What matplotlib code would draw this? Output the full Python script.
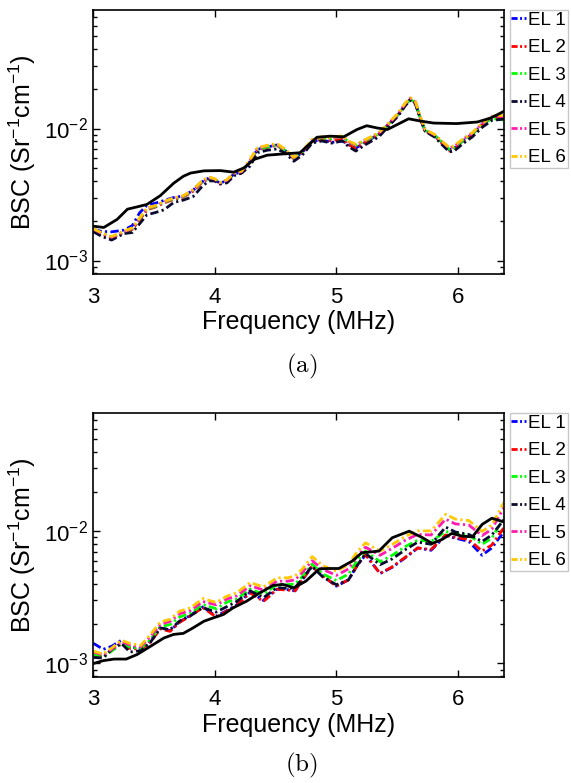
import numpy as np
import matplotlib.pyplot as plt

plt.rcParams['font.family'] = ['Liberation Sans', 'DejaVu Sans']
plt.rcParams['mathtext.default'] = 'regular'

labels = ['EL 1', 'EL 2', 'EL 3', 'EL 4', 'EL 5', 'EL 6']
colors = ['#0000ff', '#ff0000', '#00ff00', '#0a0a30', '#ff1ab0', '#ffc800']

# ---- panel (a), values in 1e-3 Sr^-1 cm^-1
fa = np.array([3.00, 3.07, 3.15, 3.25, 3.32, 3.38, 3.44, 3.51, 3.58, 3.66,
               3.74, 3.82, 3.89, 3.95, 4.00, 4.04, 4.10, 4.16, 4.22, 4.29,
               4.35, 4.43, 4.51, 4.58, 4.65, 4.72, 4.80, 4.88, 4.96, 5.05,
               5.10, 5.16, 5.24, 5.35, 5.43, 5.51, 5.57, 5.61, 5.65, 5.69,
               5.73, 5.81, 5.87, 5.93, 5.97, 6.04, 6.12, 6.20, 6.28, 6.38])
a_el1 = [1.72, 1.66, 1.65, 1.70, 1.84, 2.30, 2.62, 2.72, 2.85, 3.00,
         3.08, 3.40, 3.92, 4.22, 4.10, 3.85, 4.04, 4.55, 4.65, 5.65,
         6.95, 7.25, 7.50, 6.80, 5.95, 6.60, 8.00, 8.20, 7.85, 8.05,
         7.55, 7.10, 7.90, 9.05, 10.8, 12.8, 15.3, 16.7, 15.7, 12.1,
         9.60, 8.80, 7.80, 6.90, 7.10, 8.05, 9.05, 10.8, 12.1, 12.3]
a_el2 = [1.70, 1.58, 1.48, 1.62, 1.72, 2.03, 2.42, 2.54, 2.73, 2.90,
         3.02, 3.35, 3.88, 4.18, 4.05, 3.80, 3.98, 4.48, 4.60, 5.60,
         6.90, 7.20, 7.45, 6.75, 5.90, 6.55, 7.95, 8.30, 8.05, 8.40,
         7.55, 7.05, 7.85, 9.00, 10.7, 12.7, 15.2, 16.6, 15.6, 12.0,
         9.55, 8.75, 7.70, 6.75, 6.90, 7.90, 8.95, 10.6, 11.9, 12.0]
a_el3 = [1.72, 1.60, 1.50, 1.64, 1.75, 2.06, 2.45, 2.57, 2.76, 2.93,
         3.05, 3.40, 3.92, 4.22, 4.10, 3.85, 4.04, 4.55, 4.68, 5.70,
         6.95, 7.25, 7.50, 6.80, 5.95, 6.60, 8.10, 8.50, 8.35, 8.70,
         7.90, 7.45, 8.10, 9.10, 10.8, 12.8, 15.3, 16.6, 15.6, 12.1,
         9.65, 8.85, 7.85, 6.95, 7.10, 8.05, 9.05, 10.7, 11.9, 11.6]
a_el4 = [1.65, 1.52, 1.43, 1.60, 1.63, 1.90, 2.22, 2.31, 2.42, 2.75,
         2.87, 3.05, 3.60, 4.02, 4.00, 3.80, 3.88, 4.40, 4.60, 5.20,
         6.55, 6.85, 7.00, 6.50, 5.65, 6.30, 7.75, 8.05, 7.75, 8.05,
         7.30, 6.75, 7.55, 8.65, 10.4, 12.5, 15.0, 16.4, 15.4, 12.0,
         9.55, 8.60, 7.55, 6.65, 6.75, 7.65, 8.65, 10.2, 11.5, 11.8]
a_el5 = [1.73, 1.60, 1.50, 1.65, 1.76, 2.08, 2.48, 2.60, 2.78, 2.96,
         3.08, 3.42, 3.95, 4.27, 4.13, 3.87, 4.07, 4.58, 4.72, 5.80,
         7.10, 7.40, 7.62, 6.88, 6.00, 6.70, 8.20, 8.60, 8.40, 8.75,
         7.95, 7.50, 8.20, 9.25, 10.9, 13.0, 15.6, 17.0, 16.0, 12.3,
         9.80, 8.95, 7.95, 7.10, 7.30, 8.25, 9.25, 10.9, 12.3, 12.4]
a_el6 = [1.74, 1.62, 1.52, 1.67, 1.77, 2.10, 2.50, 2.61, 2.80, 2.98,
         3.10, 3.45, 3.98, 4.30, 4.16, 3.90, 4.10, 4.62, 4.76, 5.85,
         7.15, 7.45, 7.70, 6.95, 6.05, 6.75, 8.25, 8.65, 8.50, 8.85,
         8.05, 7.60, 8.25, 9.30, 11.0, 13.1, 15.7, 17.1, 16.1, 12.4,
         9.85, 9.00, 8.00, 7.20, 7.40, 8.30, 9.30, 11.0, 12.4, 12.6]
fa_ref = [3.00, 3.085, 3.195, 3.28, 3.36, 3.44, 3.55, 3.66, 3.74, 3.80,
          3.91, 4.045, 4.155, 4.24, 4.32, 4.43, 4.57, 4.70, 4.84, 4.95,
          5.06, 5.17, 5.25, 5.335, 5.42, 5.50, 5.595, 5.69, 5.80, 5.99,
          6.16, 6.27, 6.38]
a_ref = [1.82, 1.78, 2.05, 2.45, 2.55, 2.66, 3.10, 3.85, 4.35, 4.60,
         4.78, 4.80, 4.67, 5.04, 5.82, 6.28, 6.43, 6.55, 8.59, 8.75,
         8.65, 9.83, 10.5, 10.1, 9.83, 10.7, 11.85, 11.4, 11.0, 10.9,
         11.2, 12.0, 13.5]

# ---- panel (b)
fb = np.array([3.00, 3.08, 3.15, 3.23, 3.30, 3.39, 3.47, 3.55, 3.63, 3.71,
               3.80, 3.90, 4.01, 4.10, 4.18, 4.29, 4.40, 4.51, 4.60, 4.66,
               4.72, 4.80, 4.89, 5.00, 5.10, 5.17, 5.24, 5.36, 5.46, 5.57,
               5.67, 5.78, 5.90, 5.98, 6.09, 6.20, 6.28, 6.38])
b_el1 = [1.42, 1.28, 1.35, 1.50, 1.33, 1.30, 1.48, 1.88, 1.77, 2.07,
         2.32, 2.68, 2.28, 2.52, 2.78, 3.48, 3.00, 3.66, 3.62, 3.55,
         4.30, 5.45, 4.60, 3.85, 4.30, 5.50, 6.65, 4.80, 5.35, 6.35,
         7.50, 7.20, 9.30, 8.90, 8.40, 6.60, 7.50, 10.0]
b_el2 = [1.16, 1.12, 1.27, 1.40, 1.30, 1.28, 1.45, 1.83, 1.75, 2.05,
         2.30, 2.65, 2.25, 2.50, 2.75, 3.43, 2.95, 3.64, 3.60, 3.55,
         4.30, 5.45, 4.60, 3.85, 4.30, 5.50, 6.69, 4.80, 5.40, 6.40,
         7.50, 7.30, 9.40, 9.00, 8.70, 7.10, 7.90, 10.7]
b_el3 = [1.18, 1.12, 1.24, 1.42, 1.33, 1.30, 1.52, 1.90, 1.97, 2.25,
         2.40, 2.80, 2.60, 2.92, 3.08, 3.65, 3.35, 3.95, 3.95, 4.00,
         4.55, 5.65, 4.75, 4.25, 4.75, 6.00, 7.10, 5.90, 6.60, 7.70,
         8.60, 8.40, 10.0, 9.60, 9.40, 8.00, 8.90, 12.8]
b_el4 = [1.11, 1.10, 1.28, 1.42, 1.22, 1.25, 1.45, 1.86, 1.80, 2.10,
         2.30, 2.65, 2.45, 2.70, 2.95, 3.55, 3.15, 3.75, 3.70, 3.75,
         4.40, 5.45, 4.50, 3.95, 4.30, 5.50, 6.80, 5.60, 6.20, 7.30,
         8.30, 8.00, 10.8, 9.90, 9.50, 8.40, 9.40, 12.3]
b_el5 = [1.22, 1.16, 1.28, 1.47, 1.38, 1.34, 1.60, 1.98, 2.08, 2.38,
         2.52, 2.95, 2.78, 3.08, 3.25, 3.88, 3.60, 4.20, 4.20, 4.30,
         4.90, 6.00, 5.15, 4.65, 5.20, 6.50, 7.60, 6.60, 7.45, 8.60,
         9.50, 9.40, 12.4, 11.4, 11.2, 9.30, 10.4, 15.2]
b_el6 = [1.24, 1.18, 1.31, 1.50, 1.42, 1.37, 1.66, 2.06, 2.16, 2.49,
         2.64, 3.10, 2.90, 3.24, 3.43, 4.10, 3.80, 4.45, 4.45, 4.60,
         5.20, 6.45, 5.50, 5.00, 5.60, 7.00, 8.20, 7.10, 7.97, 9.20,
         10.1, 10.1, 13.5, 12.4, 12.1, 10.0, 11.2, 16.6]
fb_ref = [3.00, 3.08, 3.17, 3.27, 3.36, 3.47, 3.58, 3.66, 3.74, 3.82,
          3.91, 3.99, 4.07, 4.15, 4.26, 4.37, 4.48, 4.56, 4.65, 4.75,
          4.86, 4.94, 5.02, 5.13, 5.21, 5.35, 5.46, 5.60, 5.71, 5.79,
          5.87, 5.95, 6.04, 6.12, 6.20, 6.28, 6.38]
b_ref = [1.00, 1.05, 1.08, 1.08, 1.17, 1.35, 1.56, 1.66, 1.69, 1.86,
         2.09, 2.22, 2.35, 2.64, 2.96, 3.43, 3.90, 3.97, 3.74, 4.21,
         5.21, 5.24, 5.24, 5.96, 6.90, 7.10, 8.96, 10.05, 8.96, 8.11,
         8.70, 9.66, 9.20, 9.10, 11.3, 12.6, 11.8]

panels = [
    (fa, [a_el1, a_el2, a_el3, a_el4, a_el5, a_el6], fa_ref, a_ref, '(a)'),
    (fb, [b_el1, b_el2, b_el3, b_el4, b_el5, b_el6], fb_ref, b_ref, '(b)'),
]

fig = plt.figure(figsize=(5.71, 7.83), dpi=100)
axes_pos = [[0.1637, 0.650, 0.7189, 0.3372], [0.1637, 0.1354, 0.7189, 0.3372]]
cap_y = [1 - 366 / 783, 1 - 765 / 783]
leg_top = [1 - 10 / 783, 1 - 413 / 783]
dashdot = (0, (3, 1.2, 0.8, 1.2))

for k, (f, series, fref, ref, cap) in enumerate(panels):
    ax = fig.add_axes(axes_pos[k])
    for s, lab, c in zip(series, labels, colors):
        ax.plot(f, np.array(s) * 1e-3, color=c, lw=2, ls=dashdot, label=lab)
    ax.plot(fref, np.array(ref) * 1e-3, color='k', lw=2, zorder=5)
    ax.set_yscale('log')
    ax.set_xlim(3, 6.38)
    ax.set_ylim(7.9e-4, 7.9e-2)
    ax.set_xticks([3, 4, 5, 6])
    ax.set_yticks([1e-3, 1e-2])
    ax.tick_params(which='both', direction='in', top=True, right=True, labelsize=16)
    ax.tick_params(which='major', length=5, width=1)
    ax.tick_params(which='minor', length=3, width=1)
    ax.tick_params(axis='x', pad=9)
    ax.tick_params(axis='y', pad=4)
    for sp in ax.spines.values():
        sp.set_linewidth(1.2)
    ax.set_xlabel('Frequency (MHz)', fontsize=18, labelpad=2)
    ax.set_ylabel('BSC (Sr$^{-1}$cm$^{-1}$)', fontsize=18, labelpad=4)
    # legend sits outside the axes, right against the figure edge
    leg = ax.legend(loc='upper right', bbox_to_anchor=(568 / 571, leg_top[k]),
                    bbox_transform=fig.transFigure, borderaxespad=0,
                    fontsize=13.5, handlelength=0.8, handletextpad=0.1, borderpad=0.1,
                    labelspacing=0.55, fancybox=False, framealpha=1)
    leg.get_frame().set_edgecolor('#c8c8c8')
    leg.get_frame().set_linewidth(1)
    for h in leg.get_lines():
        h.set_linestyle((0, (2.2, 0.9, 0.7, 0.9)))
    fig.text(0.528, cap_y[k], r'$\mathrm{' + cap + '}$', math_fontfamily='cm',
             fontsize=18, ha='center', va='center')

fig.savefig('out.png', dpi=100)
